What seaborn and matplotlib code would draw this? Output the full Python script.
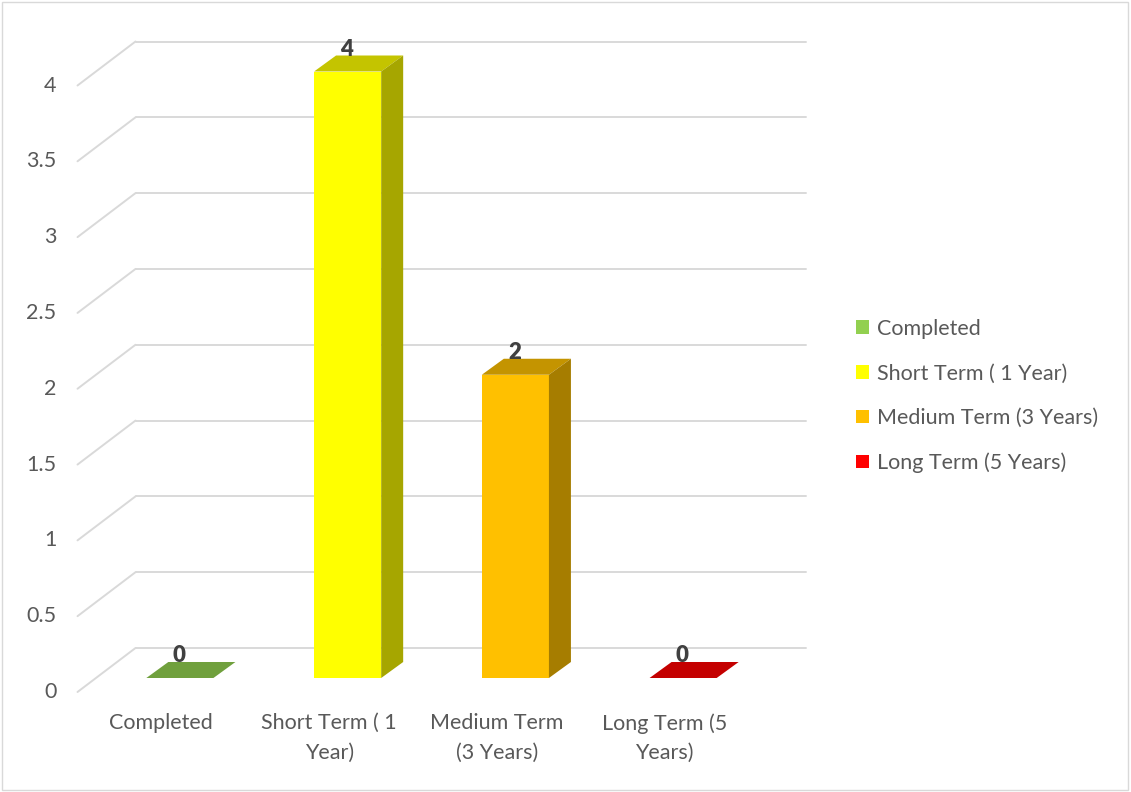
import pandas as pd
import matplotlib.pyplot as plt
import matplotlib.transforms as mtransforms
from matplotlib.patches import Polygon, Patch, Rectangle
import seaborn as sns

categories = ['Completed', 'Short Term ( 1 Year)', 'Medium Term (3 Years)', 'Long Term (5 Years)']
tick_labels = ['Completed', 'Short Term ( 1\nYear)', 'Medium Term\n(3 Years)', 'Long Term (5\nYears)']
values = [0, 4, 2, 0]
y_ticks = [0, 0.5, 1, 1.5, 2, 2.5, 3, 3.5, 4]
y_tick_labels = ['0', '0.5', '1', '1.5', '2', '2.5', '3', '3.5', '4']
front_colors = ['#92D050', '#FFFF00', '#FFC000', '#FF0000']
top_colors = ['#70A03D', '#C4C400', '#C49400', '#C40000']
side_colors = ['#5F8734', '#A6A600', '#A67D00', '#A60000']

sns.set_style('white')
plt.rcParams['font.family'] = ['Lato', 'DejaVu Sans']
FS = 15.5

df = pd.DataFrame({'status': categories, 'count': values})

W, H = 1131, 792
fig = plt.figure(figsize=(W / 100, H / 100), dpi=100)
ax = fig.add_axes([96 / W, 114 / H, 671 / W, 606.5 / H])
sns.barplot(data=df, x='status', y='count', hue='status', palette=front_colors,
            width=0.4, saturation=1, legend=False, linewidth=0, ax=ax, zorder=3)
ax.set_xlim(-0.5, 3.5)
ax.set_ylim(0, 4)
ax.axis('off')


# fake 3D: pixel offsets from the bar front plane
def shifted(dx, dy):
    return mtransforms.offset_copy(ax.transData, fig=fig, x=dx, y=dy, units='dots')


back = shifted(39.5, 30)
front = shifted(-18.5, -14)
depth = (22, 16)
to_data = ax.transData.inverted().transform
grid_col = '#D9D9D9'

for v, lab in zip(y_ticks, y_tick_labels):
    ax.plot([-0.5, 3.5], [v, v], transform=back, color=grid_col, lw=1.4, zorder=0, clip_on=False)
    p1 = back.transform((-0.5, v))
    p2 = front.transform((-0.5, v))
    d = to_data([p1, p2])
    ax.plot(d[:, 0], d[:, 1], color=grid_col, lw=1.4, zorder=0, clip_on=False)
    ax.annotate(lab, xy=(-0.5, v), xycoords=front, xytext=(-21, 0), textcoords='offset pixels',
                ha='right', va='center', fontsize=FS, color='#595959')

for i, lab in enumerate(tick_labels):
    ax.annotate(lab, xy=(i, 0), xycoords=front, xytext=(0, -21), textcoords='offset pixels',
                ha='center', va='top', fontsize=FS, color='#595959', linespacing=1.6)

for i, p in enumerate(ax.patches):
    x0 = p.get_x()
    x1 = x0 + p.get_width()
    h = p.get_height()
    a = ax.transData.transform([(x0, h), (x1, h), (x1, 0)])
    top = [a[0], a[1], a[1] + depth, a[0] + depth]
    side = [a[2], a[1], a[1] + depth, a[2] + depth]
    ax.add_patch(Polygon(to_data(top), closed=True, facecolor=top_colors[i], edgecolor='none', zorder=3, clip_on=False))
    if h > 0:
        ax.add_patch(Polygon(to_data(side), closed=True, facecolor=side_colors[i], edgecolor='none', zorder=3, clip_on=False))
    ax.annotate(f'{values[i]}', xy=((x0 + x1) / 2, h), xytext=(-1, 16), textcoords='offset pixels',
                ha='center', va='baseline', fontsize=16, fontweight='heavy', color='#404040', zorder=5)

handles = [Patch(facecolor=c, edgecolor='none') for c in front_colors]
fig.legend(handles=handles, labels=categories, loc='center left', bbox_to_anchor=(837 / W, 1 - 396 / H),
           frameon=False, fontsize=FS, handlelength=0.6, handleheight=0.6, handletextpad=0.35,
           labelspacing=1.14, labelcolor='#595959')

fig.patches.append(Rectangle((2 / W, 2 / H), 1126 / W, 788 / H, transform=fig.transFigure,
                             fill=False, edgecolor=grid_col, lw=1))

fig.savefig('out.png', dpi=100)
